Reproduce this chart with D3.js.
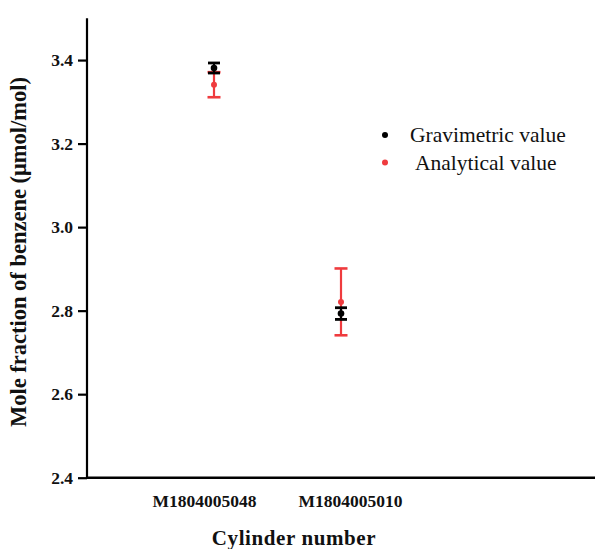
<!DOCTYPE html>
<html>
<head>
<meta charset="utf-8">
<script src="https://cdn.jsdelivr.net/npm/d3@7/dist/d3.min.js"></script>
<style>
  body { margin: 0; background: #fff; }
  svg { display: block; }
  text { font-family: "Liberation Serif", "Times New Roman", serif; }
</style>
</head>
<body>
<svg id="chart" width="595" height="549"></svg>
<script>
// ---- data ----
const categories = ["M1804005048", "M1804005010"];
const categoryPos = [1, 2];
const gravimetric = [3.381, 2.793];
const gravimetricErr = [0.012, 0.014];
const analytical = [3.341, 2.821];
const analyticalErr = [0.030, 0.080];
const yTicks = [2.4, 2.6, 2.8, 3.0, 3.2, 3.4];
const seriesNames = ["Gravimetric value", "Analytical value"];

// ---- layout ----
const svg = d3.select("#chart");
const mLeft = 87, mRight = 595, mTop = 18.3, mBottom = 477.7;
const black = "#000000", red = "#ef3b3e";

const x = d3.scaleLinear().domain([0, 4]).range([mLeft, mRight]);
const y = d3.scaleLinear().domain([2.4, 3.5]).range([mBottom, mTop]);

// y axis
const yAxis = svg.append("g").attr("transform", `translate(${mLeft},0)`)
  .call(d3.axisLeft(y).tickValues(yTicks).tickFormat(d3.format(".1f")).tickSize(9).tickPadding(5));
yAxis.select(".domain").attr("d", `M0,${mTop}V${mBottom}`).attr("stroke", "#000").attr("stroke-width", 2.2);
yAxis.selectAll(".tick line").attr("stroke", "#000").attr("stroke-width", 2.2);
yAxis.selectAll(".tick text").attr("font-size", 17.5).attr("font-weight", "bold")
  .attr("font-family", "'Liberation Serif', serif").attr("fill", "#111");

// x axis
const labelShift = [-10, 9];
const xAxis = svg.append("g").attr("transform", `translate(0,${mBottom})`)
  .call(d3.axisBottom(x).tickValues(categoryPos).tickFormat((d, i) => categories[i]).tickSize(0).tickPadding(17));
xAxis.select(".domain").attr("d", `M${mLeft - 1},0H${mRight}`).attr("stroke", "#000").attr("stroke-width", 2.6);
xAxis.selectAll(".tick text").attr("font-size", 17.5).attr("font-weight", "bold")
  .attr("font-family", "'Liberation Serif', serif").attr("fill", "#111")
  .attr("dx", (d, i) => labelShift[i]);

// axis titles
svg.append("text").attr("x", 294).attr("y", 545).attr("text-anchor", "middle")
  .attr("font-size", 21).attr("font-weight", "bold").attr("fill", "#111")
  .attr("letter-spacing", 0.6)
  .text("Cylinder number");
svg.append("text").attr("transform", `translate(26,252) rotate(-90)`).attr("text-anchor", "middle")
  .attr("font-size", 22.5).attr("font-weight", "bold").attr("fill", "#111")
  .text("Mole fraction of benzene (\u03bcmol/mol)");

// error bars + points
function drawSeries(vals, errs, color, capW, capSW, stemSW, r) {
  const g = svg.append("g");
  vals.forEach((v, i) => {
    const cx = x(categoryPos[i]);
    g.append("line").attr("x1", cx).attr("x2", cx).attr("y1", y(v - errs[i])).attr("y2", y(v + errs[i]))
      .attr("stroke", color).attr("stroke-width", stemSW);
    [v - errs[i], v + errs[i]].forEach(e => {
      g.append("line").attr("x1", cx - capW / 2).attr("x2", cx + capW / 2).attr("y1", y(e)).attr("y2", y(e))
        .attr("stroke", color).attr("stroke-width", capSW);
    });
    g.append("circle").attr("cx", cx).attr("cy", y(v)).attr("r", r).attr("fill", color);
  });
}
drawSeries(analytical, analyticalErr, red, 13, 2.6, 2.2, 3);
drawSeries(gravimetric, gravimetricErr, black, 12, 2.8, 2.2, 3.3);

// legend
const legend = svg.append("g");
const legendColors = [black, red];
const legendY = [135, 162.5];
const legendTextX = [410, 415];
seriesNames.forEach((name, i) => {
  legend.append("circle").attr("cx", 385).attr("cy", legendY[i]).attr("r", 3).attr("fill", legendColors[i]);
  legend.append("text").attr("x", legendTextX[i]).attr("y", legendY[i] + 7).attr("font-size", 21.5)
    .attr("fill", "#111").text(name);
});
</script>
</body>
</html>
